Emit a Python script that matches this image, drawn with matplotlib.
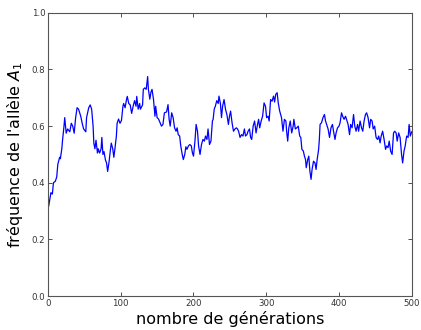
import matplotlib
matplotlib.use("Agg")
import matplotlib.pyplot as plt

# generation index / allele frequency
generations = [
    0, 1, 4, 6, 7.5, 10, 12, 13.5, 16, 17, 19, 20, 22, 23, 25, 27, 30, 32, 34, 36,
    38, 40, 42, 45, 47, 49, 52, 53, 56, 58, 60, 62, 63, 64.5, 66, 68, 69, 71, 73, 74,
    75.5, 77, 79, 80.5, 82, 84, 85.5, 87, 89, 90.5, 92, 94, 95, 97, 99, 101, 103, 104, 106, 108,
    109, 111, 113, 115, 117, 119, 121, 122, 124, 126, 127, 130, 131, 133, 135, 137, 138, 140, 141.5, 143,
    145, 147, 148, 150, 152, 154, 156, 158, 160, 163, 165, 166.5, 168, 170, 172, 174, 176, 177.5, 179, 181,
    182.5, 184.5, 186, 188, 189.5, 191, 193, 195, 197, 198.5, 200, 202, 203.6, 205.5, 207, 209, 211, 213, 215, 216.5,
    218.5, 220, 222, 224, 226, 227, 228.5, 230, 232, 234, 235, 237, 238.5, 240, 242, 244, 246, 248, 249.5, 251,
    253, 255, 257, 259, 260.5, 262, 264, 266, 268, 270, 271.5, 273.5, 275, 277, 278.5, 280, 282, 284, 286, 288,
    289.5, 291, 293, 295, 297, 299, 300.5, 302.5, 304, 306, 308, 310, 311.5, 313, 315, 316.5, 318.5, 321, 323, 325,
    327, 328, 329.5, 331, 333, 335, 337, 338, 340, 342, 344, 346, 347.5, 349, 351, 352.5, 354, 355, 357, 358.5,
    360, 361.6, 363, 365, 367, 368.5, 370, 372, 373, 374, 376, 378, 380, 381.5, 383, 385, 387, 389, 391, 392.5,
    394.5, 396, 398, 400, 401.5, 403.5, 405, 407, 409, 411, 412.5, 414.5, 416, 418, 420, 421.7, 423.5, 425.5, 427, 429,
    431, 432.7, 434.5, 436.4, 438, 440, 442, 443.6, 445.5, 447, 449, 451, 453, 454.6, 456.5, 458, 460, 462, 464, 465.6,
    467.4, 469, 471, 473, 475, 476.6, 478.5, 480, 482, 484, 486, 487.5, 489.4, 491, 493, 495, 496.4, 498, 500,
]
freq_A1 = [
    0.31, 0.318, 0.365, 0.36, 0.40, 0.405, 0.42, 0.465, 0.49, 0.485, 0.52, 0.55, 0.60, 0.63, 0.575, 0.59, 0.58, 0.61, 0.60, 0.575,
    0.63, 0.665, 0.66, 0.635, 0.61, 0.59, 0.58, 0.63, 0.665, 0.675, 0.66, 0.60, 0.54, 0.52, 0.55, 0.505, 0.52, 0.505, 0.52, 0.56,
    0.50, 0.51, 0.48, 0.47, 0.44, 0.475, 0.51, 0.54, 0.52, 0.49, 0.52, 0.565, 0.61, 0.625, 0.61, 0.62, 0.67, 0.68, 0.665, 0.695,
    0.705, 0.68, 0.675, 0.645, 0.67, 0.69, 0.67, 0.705, 0.66, 0.68, 0.66, 0.675, 0.73, 0.735, 0.73, 0.775, 0.73, 0.695, 0.72, 0.73,
    0.695, 0.635, 0.67, 0.63, 0.625, 0.612, 0.60, 0.606, 0.647, 0.65, 0.676, 0.624, 0.60, 0.647, 0.63, 0.594, 0.582, 0.594, 0.57, 0.565,
    0.53, 0.50, 0.482, 0.50, 0.527, 0.518, 0.53, 0.535, 0.53, 0.506, 0.494, 0.547, 0.606, 0.582, 0.53, 0.50, 0.535, 0.553, 0.547, 0.565,
    0.553, 0.59, 0.535, 0.547, 0.618, 0.624, 0.66, 0.67, 0.69, 0.68, 0.706, 0.68, 0.63, 0.67, 0.694, 0.66, 0.64, 0.606, 0.635, 0.653,
    0.612, 0.582, 0.59, 0.594, 0.59, 0.582, 0.56, 0.57, 0.565, 0.59, 0.565, 0.57, 0.582, 0.59, 0.56, 0.553, 0.60, 0.618, 0.576, 0.606,
    0.624, 0.594, 0.618, 0.635, 0.682, 0.67, 0.63, 0.635, 0.618, 0.694, 0.688, 0.706, 0.685, 0.712, 0.718, 0.682, 0.653, 0.63, 0.582, 0.624,
    0.618, 0.582, 0.547, 0.594, 0.618, 0.576, 0.60, 0.624, 0.59, 0.594, 0.60, 0.565, 0.56, 0.518, 0.512, 0.494, 0.482, 0.453, 0.482, 0.494,
    0.441, 0.412, 0.447, 0.476, 0.47, 0.447, 0.482, 0.518, 0.553, 0.606, 0.612, 0.63, 0.641, 0.618, 0.606, 0.59, 0.56, 0.594, 0.606, 0.582,
    0.553, 0.576, 0.594, 0.60, 0.612, 0.647, 0.635, 0.624, 0.635, 0.618, 0.606, 0.57, 0.606, 0.594, 0.641, 0.60, 0.582, 0.606, 0.582, 0.618,
    0.594, 0.582, 0.618, 0.641, 0.647, 0.63, 0.594, 0.624, 0.618, 0.59, 0.60, 0.56, 0.553, 0.565, 0.541, 0.565, 0.582, 0.553, 0.518, 0.53,
    0.524, 0.547, 0.512, 0.50, 0.576, 0.582, 0.576, 0.547, 0.576, 0.56, 0.50, 0.47, 0.512, 0.53, 0.565, 0.56, 0.606, 0.565, 0.58,
]

x_ticks = [0, 100, 200, 300, 400, 500]
y_ticks = [0.0, 0.2, 0.4, 0.6, 0.8, 1.0]

fig = plt.figure(figsize=(4.21, 3.30), dpi=100)
ax = fig.add_axes([0.114, 0.103, 0.864, 0.858])

ax.plot(generations, freq_A1, color="blue", linewidth=0.9)

ax.set_xlim(0, 500)
ax.set_ylim(0, 1)
ax.set_xticks(x_ticks)
ax.set_yticks(y_ticks)
ax.set_yticklabels([f"{v:.1f}" for v in y_ticks])

ax.tick_params(direction="in", length=3, width=0.6, labelsize=6.2,
               top=True, right=True, pad=2, colors="#333333")
for sp in ax.spines.values():
    sp.set_linewidth(0.8)
    sp.set_color("#555555")

ax.set_xlabel("nombre de générations", fontsize=11.5, labelpad=2)
ax.set_ylabel("fréquence de l'allèle $A_1$", fontsize=11.5, labelpad=5)

fig.savefig("out.png", dpi=100)
